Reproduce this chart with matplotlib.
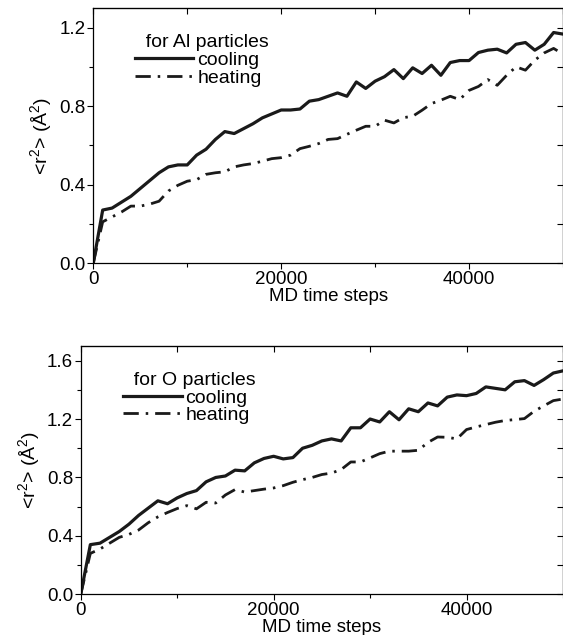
import numpy as np
import matplotlib
matplotlib.use('Agg')
import matplotlib.pyplot as plt
from matplotlib.ticker import MultipleLocator

plt.rcParams['font.family'] = ['Liberation Sans', 'DejaVu Sans']
plt.rcParams['mathtext.fontset'] = 'custom'
plt.rcParams['mathtext.rm'] = 'Liberation Sans'

steps = np.arange(0, 51000, 1000)

al_cooling = [0.0, 0.27, 0.28, 0.31, 0.34, 0.38, 0.42, 0.46, 0.49, 0.50,
              0.50, 0.55, 0.58, 0.63, 0.67, 0.66, 0.685, 0.71, 0.74, 0.76,
              0.78, 0.78, 0.785, 0.825, 0.833, 0.85, 0.867, 0.85, 0.923, 0.89,
              0.927, 0.95, 0.986, 0.94, 0.995, 0.966, 1.008, 0.957, 1.022, 1.032,
              1.032, 1.073, 1.085, 1.09, 1.071, 1.115, 1.124, 1.085, 1.115, 1.175,
              1.167]
al_heating = [0.0, 0.21, 0.235, 0.26, 0.29, 0.29, 0.30, 0.315, 0.367, 0.396,
              0.417, 0.425, 0.452, 0.46, 0.465, 0.49, 0.50, 0.507, 0.519, 0.532,
              0.537, 0.55, 0.583, 0.595, 0.609, 0.63, 0.634, 0.656, 0.677, 0.697,
              0.697, 0.728, 0.714, 0.741, 0.748, 0.779, 0.813, 0.83, 0.85, 0.833,
              0.88, 0.90, 0.935, 0.906, 0.957, 1.0, 0.983, 1.034, 1.071, 1.094,
              1.065]

o_cooling = [0.0, 0.34, 0.35, 0.39, 0.43, 0.48, 0.54, 0.59, 0.64, 0.62,
             0.66, 0.69, 0.71, 0.77, 0.80, 0.81, 0.85, 0.845, 0.90, 0.93,
             0.945, 0.927, 0.936, 1.00, 1.02, 1.05, 1.064, 1.05, 1.14, 1.14,
             1.20, 1.18, 1.25, 1.195, 1.27, 1.25, 1.31, 1.29, 1.35, 1.365,
             1.36, 1.375, 1.42, 1.41, 1.40, 1.455, 1.463, 1.43, 1.47, 1.515,
             1.53]
o_heating = [0.0, 0.28, 0.31, 0.35, 0.39, 0.41, 0.44, 0.49, 0.53, 0.56,
             0.587, 0.607, 0.585, 0.63, 0.625, 0.68, 0.717, 0.70, 0.71, 0.72,
             0.728, 0.744, 0.767, 0.785, 0.80, 0.82, 0.83, 0.854, 0.906, 0.906,
             0.934, 0.963, 0.98, 0.98, 0.98, 0.986, 1.04, 1.077, 1.075, 1.064,
             1.128, 1.146, 1.162, 1.178, 1.19, 1.196, 1.203, 1.253, 1.29, 1.326,
             1.337]

W, H = 563, 635
fig = plt.figure(figsize=(W / 100, H / 100), dpi=100)
FS = 14


def make_axes(left, top, bottom):
    return fig.add_axes([left / W, 1 - bottom / H, (W - left) / W, (bottom - top) / H])


def style_axes(ax, ymax, ystep, title, cool, heat):
    ax.plot(steps, cool, color='#1a1a1a', lw=2.3, label='cooling')
    ax.plot(steps, heat, color='#1a1a1a', lw=2.0, dashes=[5.5, 2.5, 0.9, 2.5], label='heating')
    ax.set_xlim(0, 50000)
    ax.set_ylim(0, ymax)
    ax.xaxis.set_major_locator(MultipleLocator(20000))
    ax.xaxis.set_minor_locator(MultipleLocator(10000))
    ax.yaxis.set_major_locator(MultipleLocator(ystep))
    ax.yaxis.set_minor_locator(MultipleLocator(ystep / 2))
    ax.yaxis.set_major_formatter(matplotlib.ticker.FormatStrFormatter('%.1f'))
    ax.tick_params(which='both', direction='out', top=False, right=False, labelsize=13.5, pad=1)
    ax.tick_params(which='major', length=4.5, width=0.8)
    ax.tick_params(which='minor', length=3, width=0.8)
    # mirrored ticks pointing inward on top and right
    sec_x = ax.secondary_xaxis('top')
    sec_x.xaxis.set_major_locator(MultipleLocator(10000))
    sec_x.tick_params(direction='in', length=4, labeltop=False)
    sec_y = ax.secondary_yaxis('right')
    sec_y.yaxis.set_major_locator(MultipleLocator(ystep / 2))
    sec_y.tick_params(direction='in', length=4, labelright=False)
    for s in ax.spines.values():
        s.set_linewidth(0.9)
    ax.set_xlabel('MD time steps', fontsize=13.5, labelpad=0)
    ax.set_ylabel(r'<r$^2$> (Å$^2$)', fontsize=FS, labelpad=3)
    ax.legend(title='  ' + title, loc='upper left', bbox_to_anchor=(0.06, 0.95),
              frameon=False, fontsize=FS, title_fontsize=FS, handlelength=3.0,
              handletextpad=0.2, labelspacing=0.0, borderpad=0.2,
              alignment='left')


ax1 = make_axes(93.3, 8, 263)
style_axes(ax1, 1.3, 0.4, 'for Al particles', al_cooling, al_heating)

ax2 = make_axes(80.7, 346, 594.3)
style_axes(ax2, 1.7, 0.4, 'for O particles', o_cooling, o_heating)

fig.savefig('out.png', dpi=100)
